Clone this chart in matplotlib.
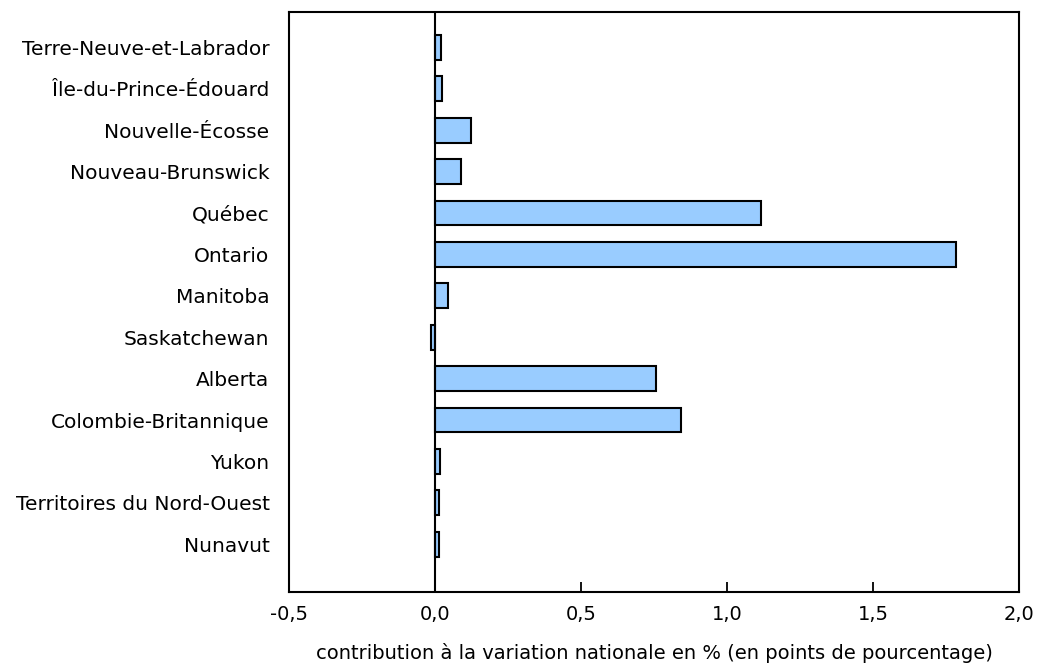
import matplotlib.pyplot as plt
import numpy as np

provinces = ['Terre-Neuve-et-Labrador', 'Île-du-Prince-Édouard', 'Nouvelle-Écosse',
             'Nouveau-Brunswick', 'Québec', 'Ontario', 'Manitoba', 'Saskatchewan',
             'Alberta', 'Colombie-Britannique', 'Yukon', 'Territoires du Nord-Ouest',
             'Nunavut']
contribution = [0.02, 0.025, 0.123, 0.09, 1.118, 1.783, 0.045, -0.015,
                0.758, 0.843, 0.016, 0.013, 0.012]
xticks = [-0.5, 0.0, 0.5, 1.0, 1.5, 2.0]
xlabels = ['-0,5', '0,0', '0,5', '1,0', '1,5', '2,0']

plt.rcParams['font.family'] = ['DejaVu Sans']
fs = 14

fig = plt.figure(figsize=(10.37, 6.65), dpi=100)
ax = fig.add_axes([289/1037, 1 - 592/665, (1019-289)/1037, (592-12)/665])

y = np.arange(len(provinces))
ax.barh(y, contribution, height=0.6, color='#99ccff', edgecolor='black', linewidth=1.5, zorder=3)
ax.axvline(0, color='black', linewidth=1.5, zorder=4)

ax.set_xlim(-0.5, 2.0)
ax.set_ylim(len(provinces) - 1 + 1.15, -0.85)
ax.set_yticks(y)
ax.set_yticklabels(provinces, fontsize=14.5)
ax.tick_params(axis='y', length=0, pad=14)
ax.set_xticks(xticks)
ax.set_xticklabels(xlabels, fontsize=fs)
ax.tick_params(axis='x', direction='in', length=7, width=1.3, pad=9)

for s in ax.spines.values():
    s.set_linewidth(1.5)

ax.set_xlabel('contribution à la variation nationale en % (en points de pourcentage)',
              fontsize=fs, labelpad=14)

fig.savefig('out.png', dpi=100)
